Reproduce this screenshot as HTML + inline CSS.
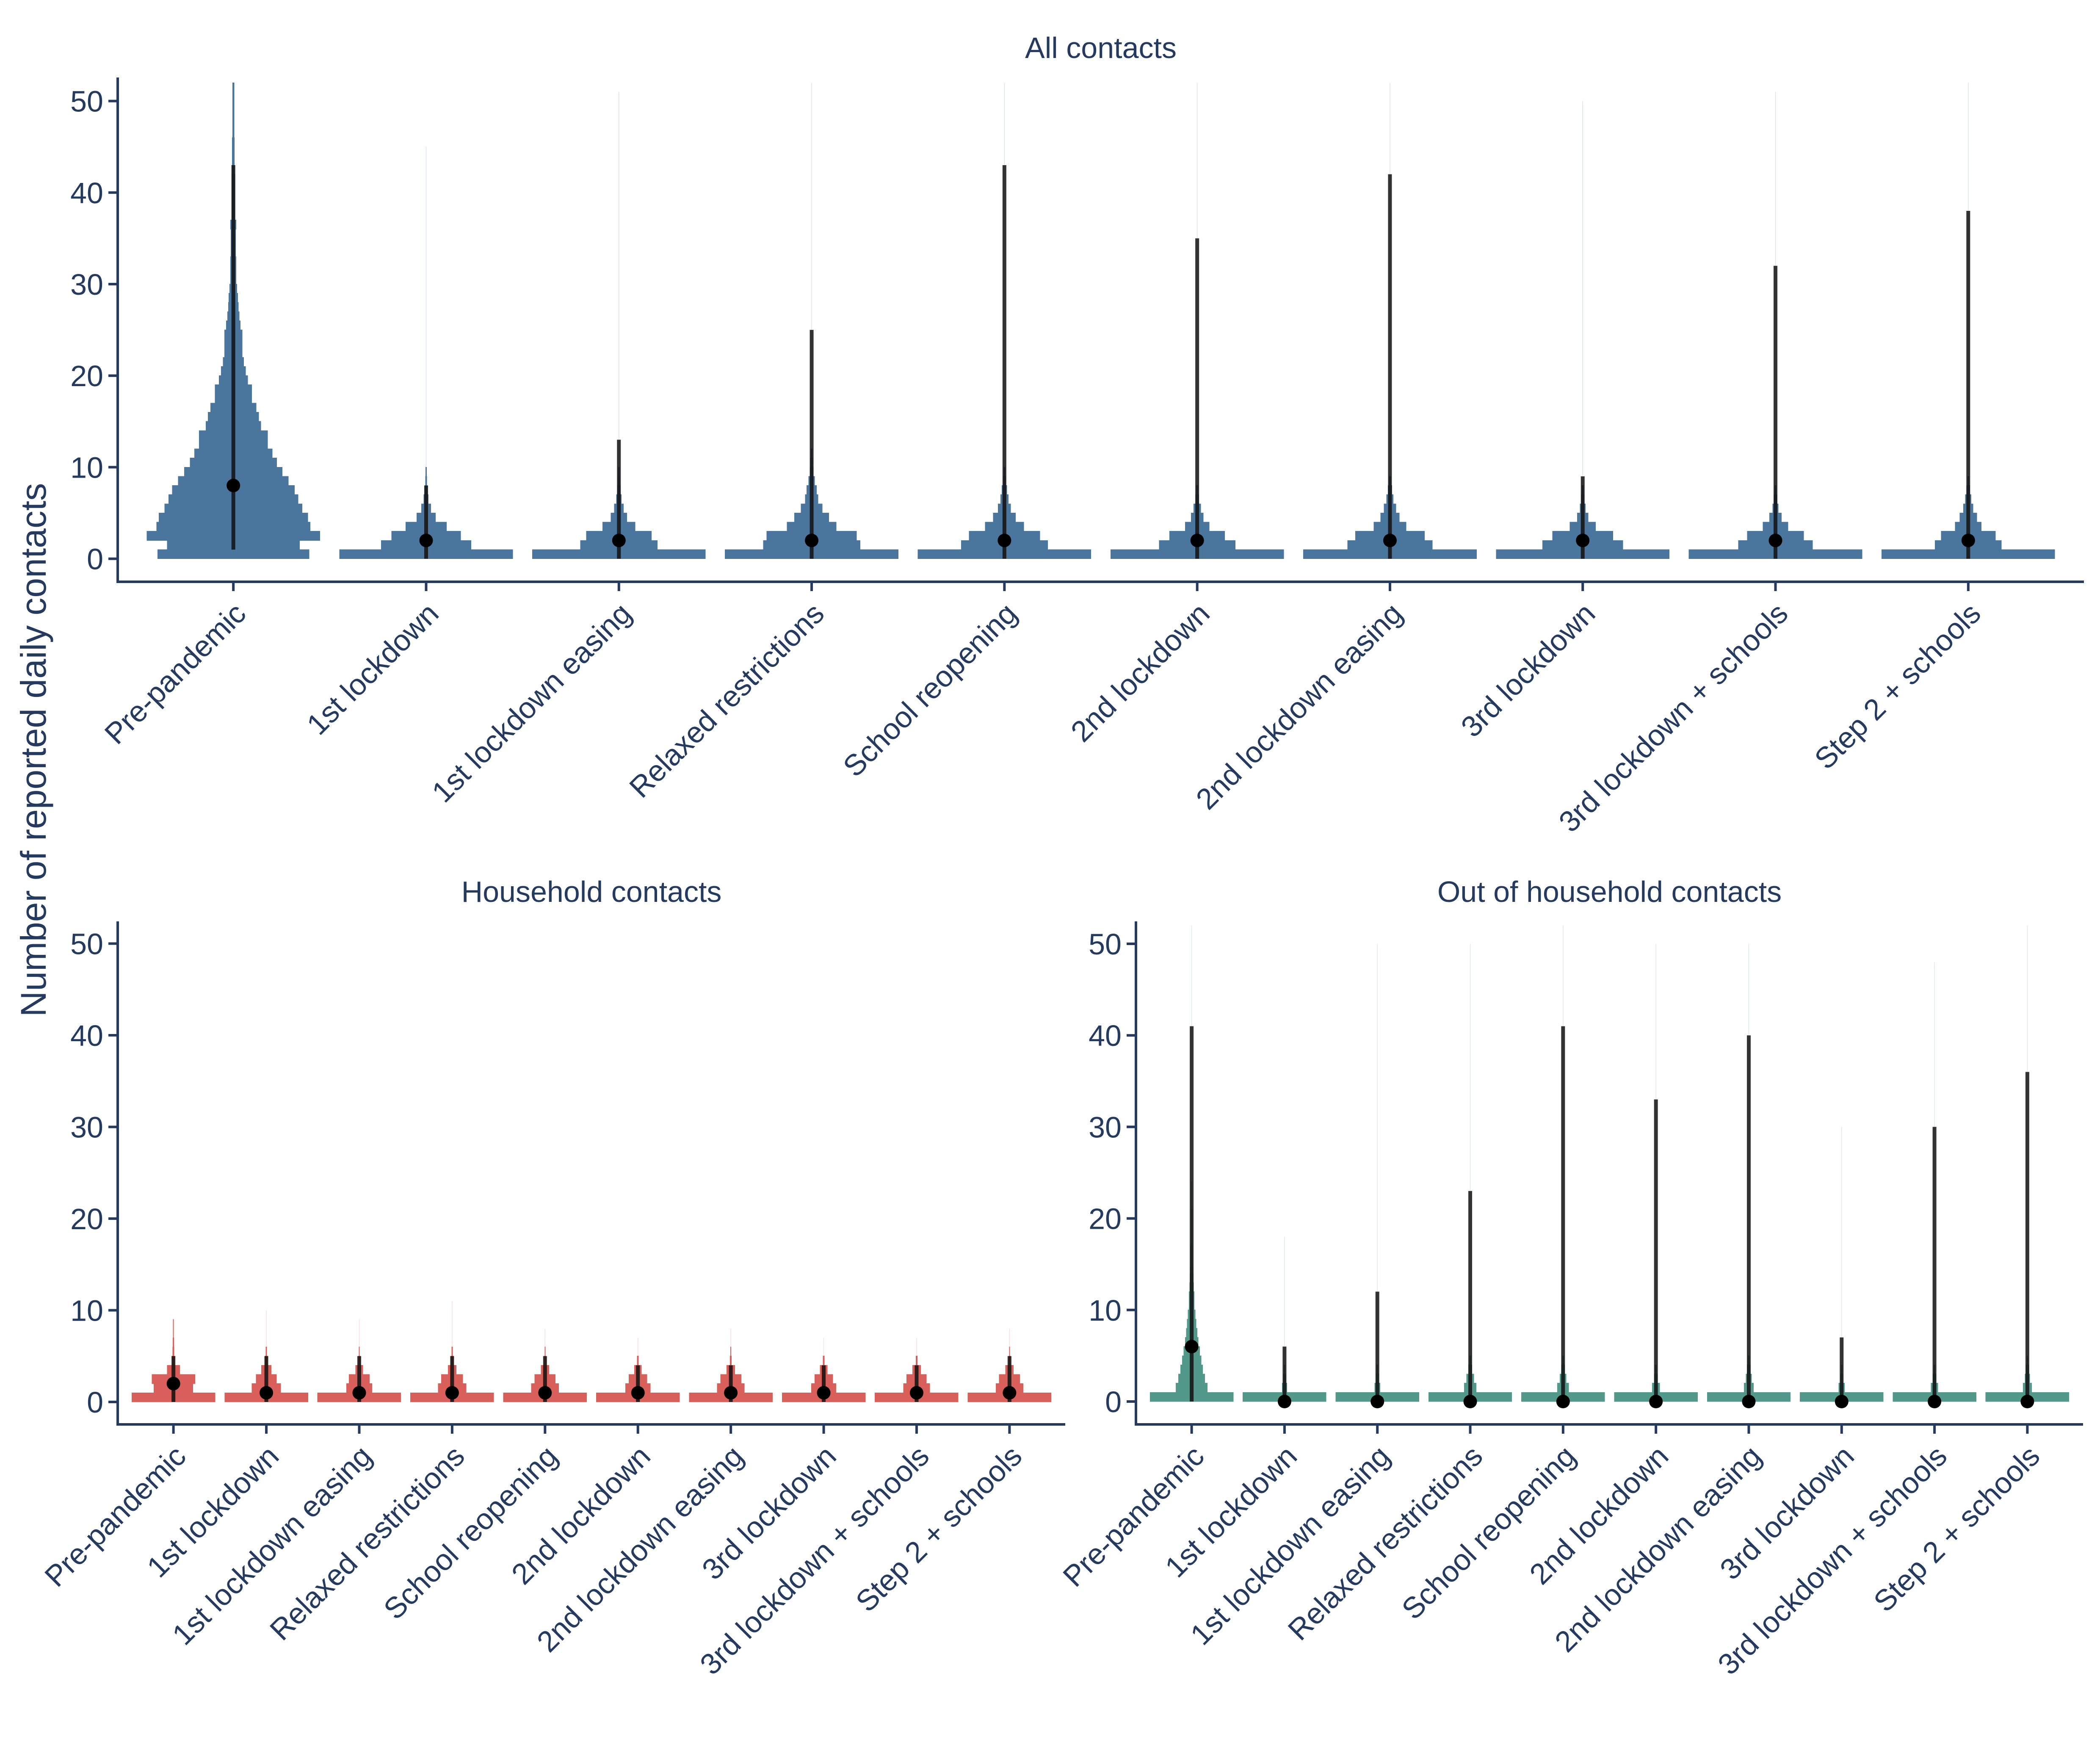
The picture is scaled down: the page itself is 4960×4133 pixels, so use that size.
<!DOCTYPE html>
<html><head><meta charset="utf-8"><style>
html,body{margin:0;padding:0;background:#fff;}
svg{display:block;font-family:"Liberation Sans",sans-serif;}
</style></head><body>
<svg id="chart" width="4960" height="4133" viewBox="0 0 4960 4133" xmlns="http://www.w3.org/2000/svg">
<rect width="4960" height="4133" fill="#fff"/>
<text x="0" y="0" transform="translate(108,1771) rotate(-90)" text-anchor="middle" font-size="84" fill="#243a5e">Number of reported daily contacts</text>
</svg>
<script>
const categories = ["Pre-pandemic","1st lockdown","1st lockdown easing","Relaxed restrictions","School reopening","2nd lockdown","2nd lockdown easing","3rd lockdown","3rd lockdown + schools","Step 2 + schools"];
const yTicks = [0,10,20,30,40,50];
// relative densities per integer bin (bin k spans k..k+1)
const allDens = [
 [0.875,0.765,1,0.887,0.861,0.794,0.748,0.706,0.637,0.566,0.502,0.451,0.396,0.396,0.319,0.294,0.265,0.214,0.214,0.167,0.142,0.12,0.103,0.103,0.103,0.083,0.069,0.059,0.054,0.044,0.034,0.034,0.034,0.029,0.029,0.029,0.034,0.02,0.02,0.02,0.02,0.02,0.015,0.015,0.015,0.015,0.011,0.011,0.011,0.011,0.011,0.011],
 [1,0.52,0.40,0.236,0.11,0.057,0.028,0.015,0.01,0.008],
 [1,0.445,0.376,0.19,0.095,0.055,0.03,0.015,0.01,0.008],
 [1,0.56,0.52,0.285,0.2,0.124,0.075,0.058,0.037,0.02,0.015,0.01],
 [1,0.50,0.41,0.225,0.13,0.075,0.046,0.03,0.015,0.01],
 [1,0.44,0.32,0.14,0.072,0.043,0.02,0.012],
 [1,0.49,0.40,0.187,0.11,0.07,0.04,0.025,0.012],
 [1,0.466,0.35,0.149,0.064,0.032,0.015,0.01],
 [1,0.43,0.327,0.146,0.07,0.035,0.02,0.01],
 [1,0.385,0.315,0.152,0.1,0.058,0.035,0.02,0.01]
];
const allMedian = [8,2,2,2,2,2,2,2,2,2];
const allLower = [1,0,0,0,0,0,0,0,0,0];
const allUpper = [43,8,13,25,43,35,42,9,32,38];
const allTail = [52,45,51,52,52,52,52,50,51,52];

const hhDens = [
 [1,0.47,0.52,0.155,0.03,0.02,0.015,0.01,0.01],
 [1,0.35,0.25,0.12,0.03,0.015],
 [1,0.31,0.25,0.09,0.02,0.01],
 [1,0.34,0.26,0.10,0.03,0.015],
 [1,0.33,0.25,0.10,0.02,0.01],
 [1,0.30,0.22,0.09,0.02],
 [1,0.33,0.25,0.10,0.02,0.01],
 [1,0.30,0.22,0.09,0.02],
 [1,0.32,0.24,0.10,0.02],
 [1,0.33,0.25,0.10,0.02,0.01]
];
const hhMedian = [2,1,1,1,1,1,1,1,1,1];
const hhLower = [0,0,0,0,0,0,0,0,0,0];
const hhUpper = [5,5,5,5,5,4,4,4,4,5];
const hhTail = [9,10,9,11,8,7,8,7,7,8];

const ohDens = [
 [1,0.38,0.32,0.27,0.23,0.195,0.16,0.135,0.11,0.09,0.065,0.065,0.05,0.04,0.03,0.025,0.025,0.018,0.018,0.018,0.018,0.01,0.01,0.01],
 [1,0.06,0.03,0.015],
 [1,0.07,0.035,0.02],
 [1,0.145,0.09,0.047,0.02],
 [1,0.14,0.08,0.04,0.02],
 [1,0.095,0.04,0.02],
 [1,0.115,0.07,0.04,0.02],
 [1,0.075,0.03,0.015],
 [1,0.085,0.04,0.02],
 [1,0.105,0.06,0.035,0.015]
];
const ohMedian = [6,0,0,0,0,0,0,0,0,0];
const ohLower = [0,0,0,0,0,0,0,0,0,0];
const ohUpper = [41,6,12,23,41,33,40,7,30,36];
const ohTail = [52,18,50,50,52,50,50,30,48,52];

const NS = "http://www.w3.org/2000/svg";
const svg = document.getElementById("chart");
const TXT = "#243a5e";
function mk(tag, attrs, parent){
  const e = document.createElementNS(NS, tag);
  for (const k in attrs) e.setAttribute(k, attrs[k]);
  (parent||svg).appendChild(e);
  return e;
}
function drawPanel(p){
  const g = mk("g", {});
  
  
  const step = (p.right - p.left) / (categories.length + 0.2);
  const xOf = i => p.left + step * (0.6 + i);
  const yOf = v => p.y0 - v * p.unit;
  const maxHalf = step * 0.45;
  const t = mk("text", {x:(p.left+p.right)/2, y:p.titleY, "text-anchor":"middle", "font-size":70, fill:TXT}, g);
  
  
  t.textContent = p.title;
  categories.forEach((c, i) => {
    const cx = xOf(i);
    const vg = mk("g", {}, g);
    
    
    const dens = p.dens[i];
    const mx = Math.max(...dens);
    const tl = mk("line", {x1:cx, x2:cx, y1:yOf(dens.length), y2:yOf(p.tail[i]), stroke:p.color, "stroke-width":1.5, opacity:0.2}, vg);
    
    
    dens.forEach((d, k) => {
      const hw = d / mx * maxHalf;
      const r = mk("rect", {x:cx - hw, y:yOf(k+1) - 0.6, width:2*hw, height:p.unit + 1.2, fill:p.color, "shape-rendering":"crispEdges"}, vg);
      
      
    });
    const ln = mk("line", {x1:cx, x2:cx, y1:yOf(p.lower[i]), y2:yOf(p.upper[i]), stroke:"#111", "stroke-width":9, opacity:0.85}, vg);
    
    
    const dot = mk("circle", {cx:cx, cy:yOf(p.median[i]), r:16, fill:"#000"}, vg);
    
    
    const tk = mk("line", {x1:cx, x2:cx, y1:p.axisY, y2:p.axisY+22, stroke:TXT, "stroke-width":6}, g);
    
    
    const lb = mk("text", {x:0, y:0, transform:`translate(${cx-2},${p.axisY+44}) rotate(-45)`, "text-anchor":"end", "dominant-baseline":"hanging", "font-size":70, fill:TXT}, g);
    
    
    lb.textContent = c;
  });
  const ya = mk("line", {x1:p.left, x2:p.left, y1:p.top, y2:p.axisY+3, stroke:TXT, "stroke-width":6}, g);
  
  
  const xa = mk("line", {x1:p.left-3, x2:p.right, y1:p.axisY, y2:p.axisY, stroke:TXT, "stroke-width":6}, g);
  
  
  yTicks.forEach(v => {
    const y = yOf(v);
    const tk = mk("line", {x1:p.left-22, x2:p.left, y1:y, y2:y, stroke:TXT, "stroke-width":6}, g);
    
    
    const lb = mk("text", {x:p.left-34, y:y+25, "text-anchor":"end", "font-size":70, fill:TXT}, g);
    
    
    lb.textContent = v;
  });
}
drawPanel({name:"all-contacts-panel", title:"All contacts", left:278, right:4922, top:183, axisY:1374, y0:1319.6, unit:21.62, titleY:137, color:"#4a769e", dens:allDens, median:allMedian, lower:allLower, upper:allUpper, tail:allTail});
drawPanel({name:"household-panel", title:"Household contacts", left:278, right:2516, top:2176, axisY:3364, y0:3311, unit:21.65, titleY:2130, color:"#d9605a", dens:hhDens, median:hhMedian, lower:hhLower, upper:hhUpper, tail:hhTail});
drawPanel({name:"out-of-household-panel", title:"Out of household contacts", left:2683, right:4920, top:2176, axisY:3364, y0:3310, unit:21.62, titleY:2130, color:"#52998b", dens:ohDens, median:ohMedian, lower:ohLower, upper:ohUpper, tail:ohTail});
</script>
</body></html>
